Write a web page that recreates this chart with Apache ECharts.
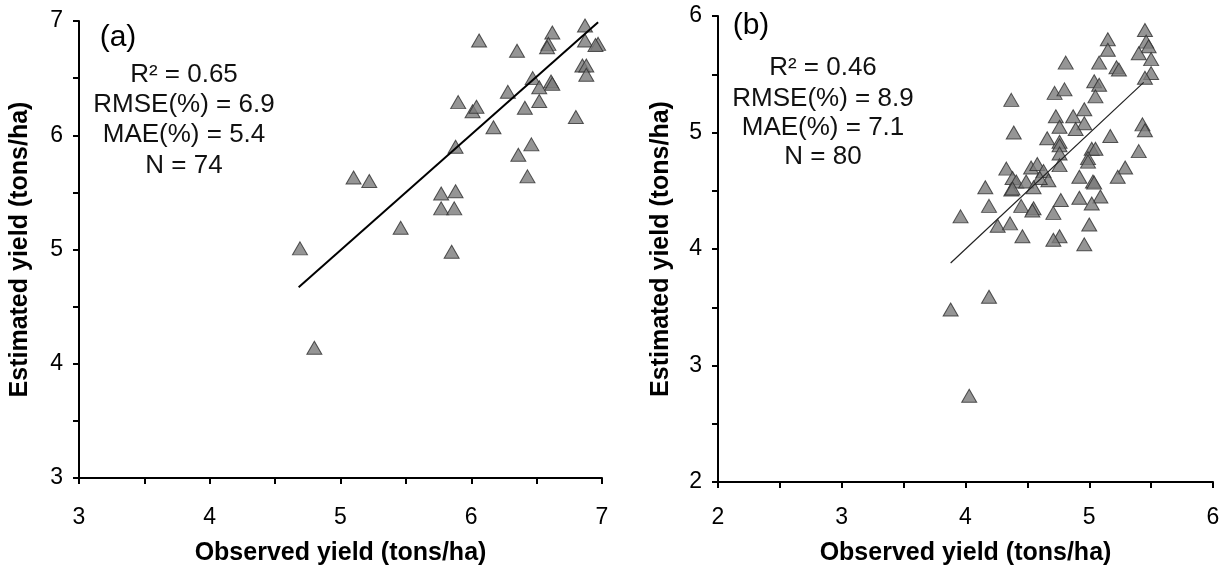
<!DOCTYPE html>
<html>
<head>
<meta charset="utf-8">
<script src="https://cdn.jsdelivr.net/npm/echarts@6/dist/echarts.min.js"></script>
<style>
html,body{margin:0;padding:0;background:#fff;}
#chart{width:1225px;height:571px;}
</style>
</head>
<body>
<div id="chart"></div>
<script>
// Panel (a)
const obsA = [6.06,6.35,6.62,6.59,6.58,6.87,6.87,6.97,6.95,6.85,6.88,6.88,6.47,6.52,6.61,6.62,6.28,6.52,6.41,6.80,5.90,6.01,6.04,6.17,5.88,6.46,6.36,6.43,5.10,5.22,5.77,5.88,5.77,5.87,5.46,5.85,4.69,4.80];
const estA = [6.83,6.74,6.90,6.80,6.77,6.96,6.83,6.80,6.79,6.61,6.61,6.53,6.50,6.42,6.47,6.45,6.38,6.30,6.24,6.16,6.29,6.21,6.25,6.07,5.90,5.92,5.83,5.64,5.63,5.60,5.49,5.51,5.36,5.36,5.19,4.98,5.01,4.14];
const fitAx = [4.68, 6.97];
const fitAy = [4.67, 6.99];
const statsA = ["R² = 0.65","RMSE(%) = 6.9","MAE(%) = 5.4","N = 74"];
const ticksA = [3,4,5,6,7];

// Panel (b)
const obsB = [5.45,5.46,5.48,5.40,5.50,5.50,5.45,5.15,5.15,5.08,5.22,5.24,4.81,5.04,5.08,5.05,4.72,4.80,4.37,4.96,4.73,4.87,4.96,4.76,4.89,4.39,5.43,5.45,5.17,4.66,4.76,4.76,5.02,5.05,5.40,4.76,4.99,4.99,4.76,5.29,4.33,4.53,4.58,4.63,5.23,4.92,4.38,4.41,4.49,4.67,5.03,5.04,4.60,4.16,4.37,4.38,4.55,5.09,4.92,4.77,5.02,4.19,4.45,4.55,4.54,4.71,3.96,5.00,4.26,4.36,4.46,4.76,4.71,4.96,3.88,4.19,4.03];
const estB = [5.88,5.78,5.74,5.68,5.63,5.51,5.47,5.80,5.71,5.60,5.56,5.54,5.60,5.44,5.41,5.31,5.34,5.37,5.28,5.20,5.14,5.14,5.08,5.05,5.03,5.00,5.07,5.02,4.97,4.95,4.92,4.89,4.86,4.86,4.84,4.82,4.78,4.75,4.72,4.70,4.69,4.70,4.73,4.67,4.62,4.62,4.61,4.58,4.58,4.59,4.58,4.57,4.61,4.53,4.51,4.52,4.53,4.45,4.44,4.42,4.39,4.37,4.37,4.35,4.33,4.31,4.28,4.21,4.20,4.22,4.11,4.11,4.08,4.04,3.48,3.59,2.74];
const fitBx = [3.88, 5.44];
const fitBy = [3.88, 5.43];
const statsB = ["R² = 0.46","RMSE(%) = 8.9","MAE(%) = 7.1","N = 80"];
const ticksB = [2,3,4,5,6];

const xTitle = "Observed yield (tons/ha)";
const yTitle = "Estimated yield (tons/ha)";

const FONT = '"Liberation Sans", Arial, sans-serif';
const zip = (a, b) => a.map((v, i) => [v, b[i]]);
const intLabel = v => (Math.abs(v - Math.round(v)) < 1e-6 ? String(Math.round(v)) : '');

function xAxis(gi, ticks, margin, gap) {
  return {
    type: 'value', gridIndex: gi, min: ticks[0], max: ticks[ticks.length - 1], interval: 0.5,
    axisLine: { lineStyle: { color: '#000', width: 2 } },
    axisTick: { show: true, inside: false, length: 6, lineStyle: { color: '#000', width: 2 } },
    axisLabel: { formatter: intLabel, color: '#000', fontSize: 23, fontFamily: FONT, margin: margin, showMinLabel: true, showMaxLabel: true },
    splitLine: { show: false },
    name: xTitle, nameLocation: 'middle', nameGap: gap,
    nameTextStyle: { color: '#000', fontSize: 25, fontWeight: 'bold', fontFamily: FONT }
  };
}
function yAxis(gi, ticks, gap) {
  return {
    type: 'value', gridIndex: gi, min: ticks[0], max: ticks[ticks.length - 1], interval: 0.5,
    axisLine: { show: true, lineStyle: { color: '#000', width: 2 } },
    axisTick: { show: true, inside: false, length: 6, lineStyle: { color: '#000', width: 2 } },
    axisLabel: { formatter: intLabel, color: '#000', fontSize: 23, fontFamily: FONT, margin: 16, showMinLabel: true, showMaxLabel: true },
    splitLine: { show: false },
    name: yTitle, nameLocation: 'middle', nameGap: gap,
    nameTextStyle: { color: '#000', fontSize: 25, fontWeight: 'bold', fontFamily: FONT }
  };
}

function statTexts(lines, cx, ys, size) {
  return lines.map((t, i) => ({
    type: 'text', x: cx, y: ys[i],
    style: { text: t, fill: '#111', font: size + 'px ' + FONT, align: 'center', verticalAlign: 'middle' }
  }));
}

const markerStyle = { color: '#7a7a7a', borderColor: '#2e2e2e', borderWidth: 1 };

const chart = echarts.init(document.getElementById('chart'), null, { renderer: 'canvas' });
chart.setOption({
  backgroundColor: '#fff',
  animation: false,
  grid: [
    { left: 79, top: 21, width: 523, height: 461 },
    { left: 718, top: 16, width: 495, height: 471 }
  ],
  xAxis: [xAxis(0, ticksA, 28, 63), xAxis(1, ticksB, 24, 59)],
  yAxis: [yAxis(0, ticksA, 46), yAxis(1, ticksB, 44)],
  series: [
    { type: 'scatter', xAxisIndex: 0, yAxisIndex: 0, symbol: 'triangle', symbolSize: [15, 13], itemStyle: markerStyle, data: zip(obsA, estA), z: 3 },
    { type: 'line', xAxisIndex: 0, yAxisIndex: 0, symbol: 'none', lineStyle: { color: '#000', width: 2 }, data: zip(fitAx, fitAy), z: 4 },
    { type: 'scatter', xAxisIndex: 1, yAxisIndex: 1, symbol: 'triangle', symbolSize: [15, 13], itemStyle: markerStyle, data: zip(obsB, estB), z: 3 },
    { type: 'line', xAxisIndex: 1, yAxisIndex: 1, symbol: 'none', lineStyle: { color: '#222', width: 1.2 }, data: zip(fitBx, fitBy), z: 4 }
  ],
  graphic: [
    { type: 'text', x: 118, y: 38, style: { text: '(a)', fill: '#000', font: '30px ' + FONT, align: 'center', verticalAlign: 'middle' } },
    { type: 'text', x: 751, y: 26, style: { text: '(b)', fill: '#000', font: '30px ' + FONT, align: 'center', verticalAlign: 'middle' } }
  ].concat(statTexts(statsA, 184, [75, 105, 135, 166], 26))
   .concat(statTexts(statsB, 823, [68, 99, 128, 157], 26))
});
</script>
</body>
</html>
